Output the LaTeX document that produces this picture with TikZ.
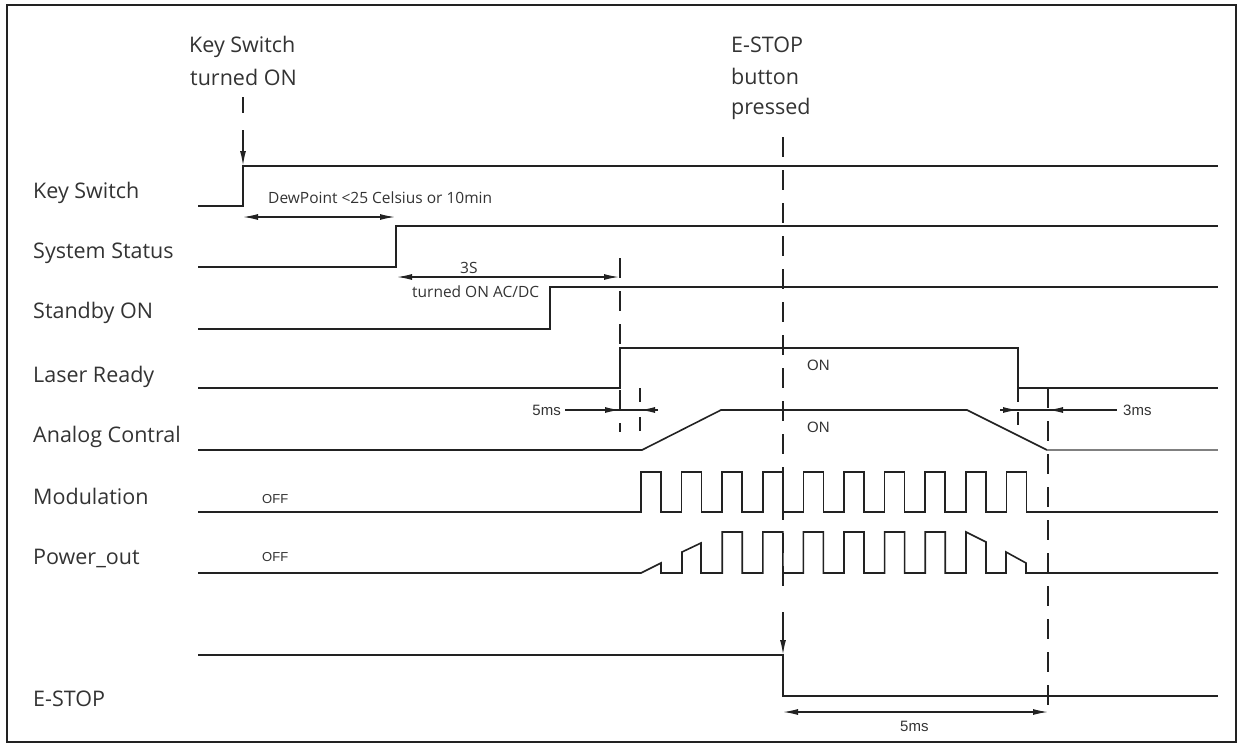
\documentclass[tikz,border=0pt]{standalone}
\usepackage{fontspec}
\setmainfont{Open Sans}
\newfontfamily\arialf{Liberation Sans}
\usetikzlibrary{arrows.meta}
\definecolor{ink}{HTML}{222222}
\definecolor{txt}{HTML}{333333}
\begin{document}
\begin{tikzpicture}[x=1pt,y=-1pt,
  >={Latex[length=15pt,width=6pt]},
  sig/.style={line width=1.6pt,draw=ink,line join=miter},
  dimline/.style={line width=1.3pt,draw=ink},
  dsh/.style={line width=1.5pt,draw=ink,dash pattern=on 20pt off 13pt},
  lbl/.style={anchor=base west,inner sep=0pt,font=\fontsize{21.5}{26}\selectfont,text=txt},
  sml/.style={anchor=base west,inner sep=0pt,font=\fontsize{15.5}{18}\selectfont,text=txt},
  ari/.style={anchor=base west,inner sep=0pt,font=\arialf\fontsize{15}{18}\selectfont,text=txt},
  offl/.style={anchor=base west,inner sep=0pt,font=\arialf\fontsize{13}{15}\selectfont,text=txt}
]
\useasboundingbox (0,0) rectangle (1240,747);
\draw[line width=2pt,draw=ink] (7,5) rectangle (1236,742);

% signal labels
\node[lbl] (lks) at (33,198) {Key Switch};
\node[lbl] (lss) at (33,258) {System Status};
\node[lbl] (lsb) at (33,318) {Standby ON};
\node[lbl] (llr) at (33,382) {Laser Ready};
\node[lbl] (lac) at (33,442) {Analog Contral};
\node[lbl] (lmo) at (33,504) {Modulation};
\node[lbl] (lpo) at (33,564) {Power\_out};
\node[lbl] (les) at (33,706) {E-STOP};

% event texts
\node[lbl] (tk1) at (189,52) {Key Switch};
\node[lbl] (tk2) at (190,85) {turned ON};
\node[lbl] (te1) at (731,52) {E-STOP};
\node[lbl] (te2) at (731,84) {button};
\node[lbl] (te3) at (731,114) {pressed};

% named instants
\coordinate (ksA) at (243,130);
\coordinate (ksB) at (243,166);
\coordinate (esA) at (783,612);
\coordinate (esB) at (783,655);

% waveforms
\draw[sig] (198,206) -- (243,206) -- (ksB) -- (1218,166);
\draw[sig] (198,267) -- (396,267) -- (396,226) -- (1218,226);
\draw[sig] (198,329) -- (550,329) -- (550,287) -- (1218,287);
\draw[sig] (198,388) -- (620,388) -- (620,348) -- (1018,348) -- (1018,388) -- (1218,388);
\draw[sig] (198,450) -- (642,450) -- (721,410) -- (967,410) -- (1047,450);
\draw[sig,draw=black!50] (1047,450) -- (1218,450);
\draw[sig] (198,512) foreach \k in {0,...,9}{ -- ({641+40.6*\k},512) -- ({641+40.6*\k},472) -- ({661+40.6*\k},472) -- ({661+40.6*\k},512)} -- (1218,512);
\draw[sig] (198,573) -- (641,573) -- (661,563) -- (661,573) -- (682,573) -- (682,552) -- (701,543) -- (701,573)
  foreach \k in {2,...,7}{ -- ({641+40.6*\k},573) -- ({641+40.6*\k},532) -- ({661+40.6*\k},532) -- ({661+40.6*\k},573)}
  -- (966,573) -- (966,532) -- (986,542) -- (986,573) -- (1006,573) -- (1006,552) -- (1026,563) -- (1026,573) -- (1218,573);
\draw[sig] (198,655) -- (esB) -- (783,696) -- (1218,696);

% markers
\draw[sig] (243,97) -- (243,113);
\draw[sig,->] (ksA) -- (ksB);
\draw[dsh] (783,137) -- (783,592);
\draw[sig,->] (esA) -- (esB);
\draw[dsh] (620,258) -- (620,432);
\draw[dsh,dash pattern=on 14pt off 15pt] (640,388) -- (640,432);
\draw[dsh,dash pattern=on 13pt off 10pt] (1018,389) -- (1018,432);
\draw[dsh] (1048,388) -- (1048,712);

% dimensions
\coordinate (d1a) at (243,217); \coordinate (d1b) at (395,217);
\draw[dimline,<->] (d1a) -- (d1b);
\coordinate (d2a) at (397,277); \coordinate (d2b) at (619,277);
\draw[dimline,<->] (d2a) -- (d2b);
\coordinate (d3a) at (565,410); \coordinate (d3b) at (658,410);
\draw[dimline] (d3a) -- (d3b);
\draw[dimline,->] (600,410) -- (620,410);
\draw[dimline,->] (d3b) -- (640,410);
\coordinate (d4a) at (1000,410); \coordinate (d4b) at (1117,410);
\draw[dimline] (d4a) -- (d4b);
\draw[dimline,->] (d4a) -- (1018,410);
\draw[dimline,->] (1065,410) -- (1048,410);
\coordinate (d5a) at (783,712); \coordinate (d5b) at (1048,712);
\draw[dimline,<->] (d5a) -- (d5b);

% annotation texts
\node[sml] (tdew) at (268,203) {DewPoint <25 Celsius or 10min};
\node[sml] (t3s) at (460,273) {3S};
\node[sml] (tac) at (412,297) {turned ON AC/DC};
\node[ari] (ton1) at (807,370) {ON};
\node[ari] (ton2) at (807,432) {ON};
\node[ari,anchor=base east] (t5a) at (561,415) {5ms};
\node[ari] (t3ms) at (1123,415) {3ms};
\node[ari] (t5b) at (900,731) {5ms};
\node[offl] (toff1) at (262,503) {OFF};
\node[offl] (toff2) at (262,561) {OFF};
\end{tikzpicture}
\end{document}
